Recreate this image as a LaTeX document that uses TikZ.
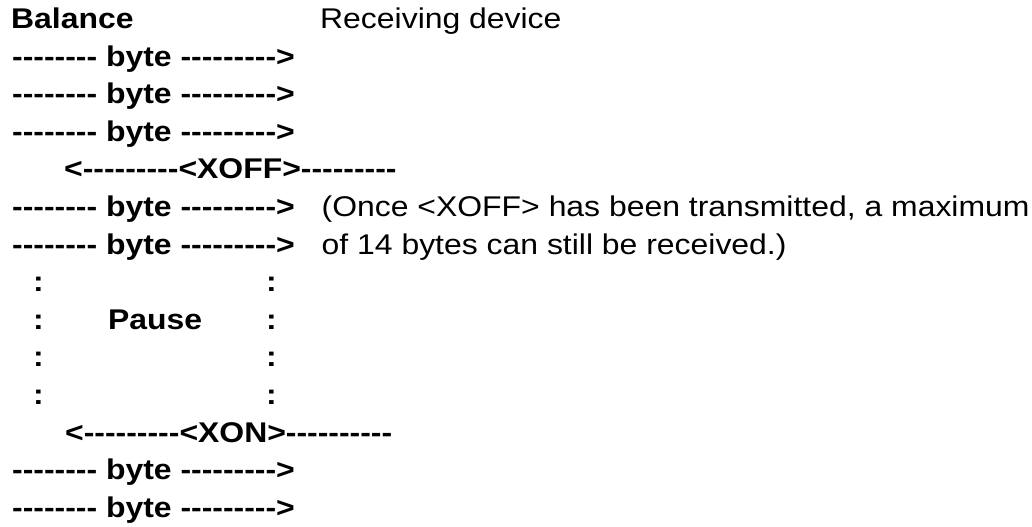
\documentclass[tikz,border=0pt]{standalone}
\usepackage{fontspec}
\newfontfamily\arial{Liberation Sans}[FakeStretch=1.12]
\begin{document}
\begin{tikzpicture}[x=1bp,y=-1bp,
  txt/.style={anchor=base west,inner sep=0pt,font=\arial\fontsize{28.5bp}{32bp}\selectfont},
  bold/.style={anchor=base west,inner sep=0pt,font=\arial\bfseries\fontsize{28.5bp}{32bp}\selectfont}]
\useasboundingbox[fill=white] (0,0) rectangle (1032,527);
\node[bold] (balance) at (11,28.5) {Balance};
\node[txt] (recv) at (320,28.5) {Receiving device};
\node[bold] (b1) at (12,66.1) {-------- byte --------->};
\node[bold] (b2) at (12,103.7) {-------- byte --------->};
\node[bold] (b3) at (12,141.3) {-------- byte --------->};
\node[bold] (xoff) at (64,178.9) {<---------<XOFF>---------};
\node[bold] (b4) at (12,216.5) {-------- byte --------->};
\node[bold] (b5) at (12,254.1) {-------- byte --------->};
\node[txt] (note1) at (321.5,216.5) {(Once <XOFF> has been transmitted, a maximum};
\node[txt] (note2) at (321.5,254.1) {of 14 bytes can still be received.)};
\node[bold] (c1l) at (33,291.7) {:};
\node[bold] (c1r) at (266,291.7) {:};
\node[bold] (c2l) at (33,329.3) {:};
\node[bold] (pause) at (108,329.3) {Pause};
\node[bold] (c2r) at (266,329.3) {:};
\node[bold] (c3l) at (33,366.9) {:};
\node[bold] (c3r) at (266,366.9) {:};
\node[bold] (c4l) at (33,404.5) {:};
\node[bold] (c4r) at (266,404.5) {:};
\node[bold] (xon) at (65,442.1) {<---------<XON>----------};
\node[bold] (b6) at (12,479.7) {-------- byte --------->};
\node[bold] (b7) at (12,517.3) {-------- byte --------->};
\end{tikzpicture}
\end{document}
